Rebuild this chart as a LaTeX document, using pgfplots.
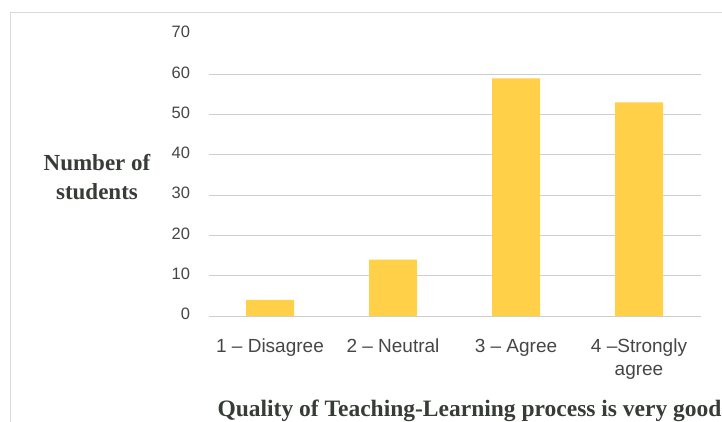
\documentclass[border=0pt]{standalone}
\usepackage{fontspec}
\setmainfont{Liberation Sans}
\newfontfamily\serifbold{Liberation Serif}
\usepackage{pgfplots}
\pgfplotsset{compat=1.18}
\definecolor{barfill}{RGB}{255,208,72}
\definecolor{gridc}{RGB}{205,205,212}
\definecolor{tickc}{RGB}{70,70,70}
\definecolor{labc}{RGB}{55,60,55}

\begin{document}
\begin{tikzpicture}
\useasboundingbox (0,0) rectangle (722bp,-422bp);
\fill[white] (0,0) rectangle (722bp,-422bp);
\draw[gray!30, line width=0.8bp] (10bp,-430bp) -- (10bp,-12bp) -- (730bp,-12bp);

\begin{axis}[
    at={(208.5bp,-316bp)}, anchor=south west,
    scale only axis,
    width=492bp, height=282bp,
    ymin=0, ymax=70,
    xmin=-0.5, xmax=3.5,
    ybar, bar width=48bp,
    axis line style={draw=none},
    major tick length=0pt,
    ytick={70},
    extra y ticks={0,10,20,30,40,50,60},
    extra y tick style={grid=major, grid style={gridc, line width=0.8bp}},
    xtick={0,1,2,3},
    xticklabels={1 -- Disagree, 2 -- Neutral, 3 -- Agree, {4 --Strongly\\agree}},
    x tick label style={align=center, anchor=north, font=\fontsize{19bp}{23bp}\selectfont, text=tickc, yshift=-17bp},
    typeset ticklabels with strut,
    y tick label style={font=\fontsize{16.5bp}{19bp}\selectfont, text=tickc, xshift=-15bp},
    /pgf/number format/assume math mode=true,
    clip=false,
]
\addplot[fill=barfill, draw=none] coordinates {(0,4) (1,14) (2,59) (3,53)};
\end{axis}

\node[align=center, text=labc, font=\serifbold\bfseries\fontsize{23bp}{29bp}\selectfont] at (97bp,-177bp) {Number of\\students};
\node[anchor=base west, text=labc, font=\serifbold\bfseries\fontsize{23.5bp}{28bp}\selectfont] at (214bp,-416bp) {Quality of Teaching-Learning process is very good};
\end{tikzpicture}
\end{document}
